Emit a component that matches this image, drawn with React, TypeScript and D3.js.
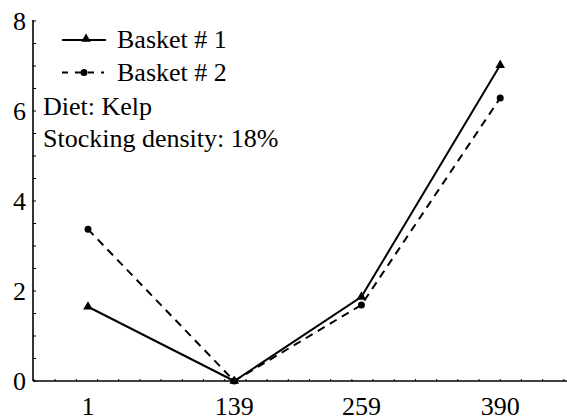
import React from "react";
import * as d3 from "d3";

const days = [1, 139, 259, 390];
const basket1 = [1.65, 0, 1.87, 7.02];
const basket2 = [3.37, 0, 1.69, 6.29];
const yTicks = [0, 2, 4, 6, 8];
const legendLabels = ["Basket # 1", "Basket # 2"];
const notes = ["Diet: Kelp", "Stocking density: 18%"];

const W = 567;
const H = 420;
const FONT = "Tinos, 'Liberation Serif', 'Times New Roman', Times, serif";

export default function App() {
  const x = d3.scaleLinear().domain([-50.9, 453]).range([33, 567]);
  const y = d3.scaleLinear().domain([0, 8]).range([381, 21]);
  const line = d3
    .line<number>()
    .x((_, i) => x(days[i]))
    .y((d) => y(d));
  const minorY = d3.range(0, 8.01, 0.5);
  const minorX = d3.range(-50, 453, 20);
  const tri = d3.symbol().type(d3.symbolTriangle).size(40)();

  return (
    <svg
      width={W}
      height={H}
      style={{ position: "absolute", left: 0, top: 0, background: "#fff" }}
    >
      <rect width={W} height={H} fill="#fff" />
      <g fontFamily={FONT} fontSize={26} fill="#000" style={{ fontFamily: FONT }}>
        {yTicks.map((v) => (
          <text key={"yt" + v} x={26} y={y(v) + 9} textAnchor="end">
            {v}
          </text>
        ))}
        {days.map((d) => (
          <text key={"xt" + d} x={x(d)} y={415} textAnchor="middle">
            {d}
          </text>
        ))}
        {legendLabels.map((t, i) => (
          <text key={t} x={117} y={48 + i * 33}>
            {t}
          </text>
        ))}
        {notes.map((t, i) => (
          <text key={t} x={43} y={115 + i * 32}>
            {t}
          </text>
        ))}
      </g>
      {/* axes */}
      <line x1={x.range()[0]} x2={x.range()[0]} y1={y(8) - 1} y2={y(0)} stroke="#000" strokeWidth={1.6} />
      <line x1={x.range()[0]} x2={W} y1={y(0)} y2={y(0)} stroke="#000" strokeWidth={1.6} />
      {minorY.map((v) => (
        <line key={"my" + v} x1={33} x2={36} y1={y(v)} y2={y(v)} stroke="#000" strokeWidth={1} />
      ))}
      {minorX.map((v) => (
        <line key={"mx" + v} x1={x(v)} x2={x(v)} y1={y(0)} y2={y(0) - 2} stroke="#000" strokeWidth={1} />
      ))}
      {/* series */}
      <path d={line(basket2) || ""} fill="none" stroke="#000" strokeWidth={2} strokeDasharray="8,6" />
      <path d={line(basket1) || ""} fill="none" stroke="#000" strokeWidth={2} />
      {basket1.map((v, i) => (
        <path key={"t" + i} d={tri || ""} transform={`translate(${x(days[i])},${y(v)})`} fill="#000" />
      ))}
      {basket2.map((v, i) => (
        <circle key={"c" + i} cx={x(days[i])} cy={y(v)} r={3.5} fill="#000" />
      ))}
      {/* legend */}
      <line x1={62} x2={106} y1={40} y2={40} stroke="#000" strokeWidth={2} />
      <path d={tri || ""} transform="translate(86,39)" fill="#000" />
      <line x1={62} x2={104} y1={72.5} y2={72.5} stroke="#000" strokeWidth={2} strokeDasharray="6,7" />
      <circle cx={84} cy={72.5} r={3.5} fill="#000" />
    </svg>
  );
}
